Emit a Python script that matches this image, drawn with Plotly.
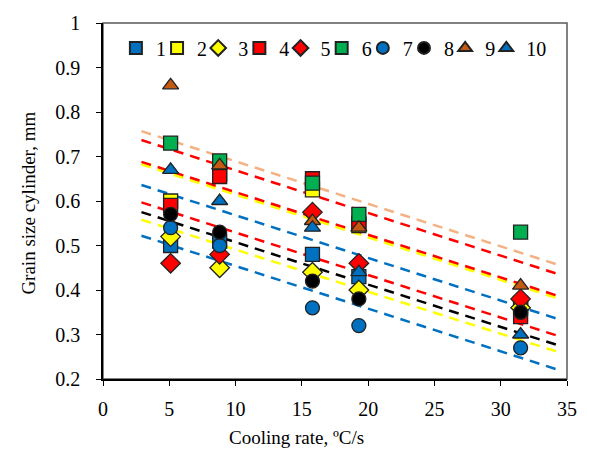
import plotly.graph_objects as go

# ---- data ----
cooling_rate = [5.1, 8.8, 15.8, 19.3, 31.5]

series_names = ["1", "2", "3", "4", "5", "6", "7", "8", "9", "10"]
s1 = [0.50, 0.51, 0.48, 0.43, 0.37]
s2 = [0.60, 0.66, 0.625, 0.545, 0.36]
s3 = [0.52, 0.45, 0.44, 0.40, 0.36]
s4 = [0.59, 0.655, 0.65, 0.55, 0.34]
s5 = [0.46, 0.48, 0.575, 0.46, 0.38]
s6 = [0.73, 0.69, 0.64, 0.57, 0.53]
s7 = [0.54, 0.50, 0.36, 0.32, 0.27]
s8 = [0.57, 0.53, 0.42, 0.38, 0.35]
s9 = [0.86, 0.68, 0.555, 0.54, 0.41]
s10 = [0.67, 0.60, 0.54, 0.44, 0.30]
series_values = [s1, s2, s3, s4, s5, s6, s7, s8, s9, s10]

# trend lines: x range and values at both ends
trend_x = [2.9, 34.2]
trend_start = [0.757, 0.737, 0.684, 0.688, 0.636, 0.597, 0.575, 0.558, 0.522]
trend_end = [0.458, 0.437, 0.384, 0.388, 0.336, 0.298, 0.277, 0.262, 0.222]

x_ticks = [0, 5, 10, 15, 20, 25, 30, 35]
y_ticks = [0.2, 0.3, 0.4, 0.5, 0.6, 0.7, 0.8, 0.9, 1]
y_tick_labels = ["0.2", "0.3", "0.4", "0.5", "0.6", "0.7", "0.8", "0.9", "1"]

# ---- styles ----
BLUE = "#0070C0"
YELLOW = "#FFFF00"
RED = "#FF0000"
GREEN = "#00B050"
BROWN = "#C55A11"
SALMON = "#F4B183"
BLACK = "#000000"

marker_colors = [BLUE, YELLOW, YELLOW, RED, RED, GREEN, BLUE, BLACK, BROWN, BLUE]
marker_symbols = ["square", "square", "diamond", "square", "diamond", "square",
                  "circle", "circle", "triangle-up", "triangle-up"]
marker_sizes = [14, 14, 15, 14, 15, 14, 14, 14, 14, 14]
trend_colors = [SALMON, RED, YELLOW, RED, BLUE, RED, BLACK, YELLOW, BLUE]
trend_widths = [2.5, 2.5, 4, 2.5, 2.5, 2.5, 2.5, 2.5, 2.5]

FONT = "Liberation Serif"

LEG_X0 = 0.0278     # left of first legend entry (paper fraction)
LEG_STEP = 0.0887   # entry spacing (paper fraction)
legend_ids = ["legend"] + ["legend%d" % k for k in range(2, len(series_names) + 1)]

fig = go.Figure()

for c, y0, y1, w in zip(trend_colors, trend_start, trend_end, trend_widths):
    fig.add_trace(go.Scatter(
        x=trend_x, y=[y0, y1], mode="lines",
        line=dict(color=c, width=w, dash="10px,7px"),
        showlegend=False, hoverinfo="skip"))

for name, vals, col, sym, sz, lg in zip(series_names, series_values, marker_colors,
                                        marker_symbols, marker_sizes, legend_ids):
    fig.add_trace(go.Scatter(
        x=cooling_rate, y=vals, mode="markers", name=name, legend=lg,
        marker=dict(color=col, symbol=sym, size=sz,
                    line=dict(color="#222222", width=1.3))))

legend_common = dict(orientation="h", y=0.93, xanchor="left", yanchor="middle",
                     bgcolor="rgba(0,0,0,0)", font=dict(size=20),
                     itemsizing="constant", itemwidth=30, tracegroupgap=0)

legend_layout = {lid: dict(x=LEG_X0 + k * LEG_STEP, **legend_common)
                 for k, lid in enumerate(legend_ids)}

fig.update_layout(
    width=589, height=452,
    margin=dict(l=103, r=19, t=17, b=73),
    paper_bgcolor="white", plot_bgcolor="white",
    font=dict(family=FONT, size=20, color="black"),
    showlegend=True,
    shapes=[dict(type="rect", xref="paper", yref="paper", x0=0, y0=0, x1=1, y1=1,
                 line=dict(color="#595959", width=1.5), layer="below")],
    annotations=[
        dict(text="Cooling rate, ºC/s", xref="paper", yref="paper",
             x=0.4176, y=-0.163, xanchor="center", yanchor="middle",
             showarrow=False, font=dict(size=19)),
        dict(text="Grain size cylinder, mm", xref="paper", yref="paper",
             x=-0.1606, y=0.494, xanchor="center", yanchor="middle",
             textangle=-90, showarrow=False, font=dict(size=19)),
    ],
    **legend_layout,
)

fig.update_xaxes(range=[0, 35], tickvals=x_ticks, ticks="outside", ticklen=5,
                 tickwidth=1.3, tickcolor="black", showline=True, linecolor="black",
                 linewidth=1.5, showgrid=False, zeroline=False, ticklabelstandoff=6)
fig.update_yaxes(range=[0.2, 1], tickvals=y_ticks, ticktext=y_tick_labels,
                 ticks="outside", ticklen=5, tickwidth=1.3, tickcolor="black",
                 showline=True, linecolor="black", linewidth=1.5, showgrid=False,
                 zeroline=False, ticklabelstandoff=12)

fig.write_html("out.html", config={"displayModeBar": False},
               post_script="document.body.style.margin='0';")
